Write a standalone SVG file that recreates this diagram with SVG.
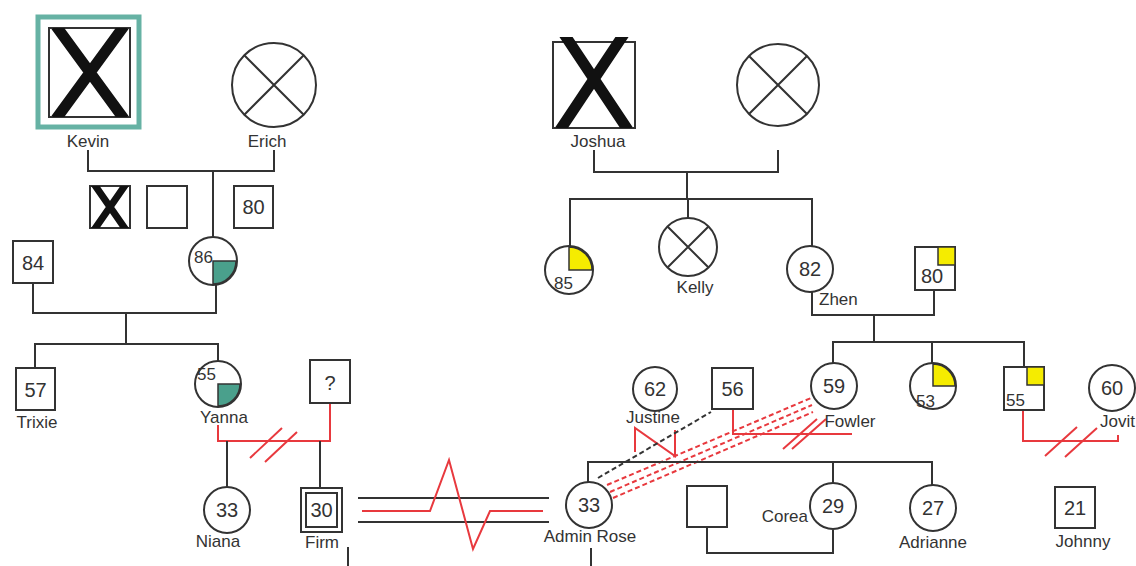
<svg xmlns="http://www.w3.org/2000/svg" width="1136" height="566" viewBox="0 0 1136 566">
<style>
.s{fill:#fff;stroke:#333;stroke-width:2}
.n{fill:none;stroke:#333;stroke-width:2}
.x{stroke:#111;stroke-linecap:butt}
.t{font-family:"Liberation Sans",Arial,sans-serif;font-size:20px;fill:#333;text-anchor:middle}
.st{font-family:"Liberation Sans",Arial,sans-serif;font-size:17px;fill:#333}
.l{font-family:"Liberation Sans",Arial,sans-serif;font-size:17px;fill:#333;text-anchor:middle}
.c path,.c line{fill:none;stroke:#333;stroke-width:2}
.c .r{stroke:#e8393e}
.c .d{stroke-dasharray:5 3}
.teal{fill:#4aa08c;stroke:#333;stroke-width:1.5}
.yel{fill:#f5ec00;stroke:#333;stroke-width:1.5}
</style>
<defs>
<clipPath id="ck"><rect x="49" y="28" width="81" height="89"/></clipPath>
<clipPath id="cj"><rect x="553" y="37" width="82" height="91"/></clipPath>
<clipPath id="cs"><rect x="90" y="186" width="40" height="42"/></clipPath>
</defs>
<rect width="1136" height="566" fill="#fff"/>

<g id="connectors" class="c">
<path d="M88,150 V171 H274 V150"/>
<path d="M213,171 V237"/>
<path d="M33,283 V313 H216 V285"/>
<path d="M126,313 V344"/>
<path d="M35,368 V344 H218 V361"/>
<path class="r" d="M218,425 V441 H330 V403"/>
<path class="r" d="M250,458 L282,428 M265,462 L297,432"/>
<path d="M227,441 V487"/>
<path d="M320,441 V488"/>
<path d="M348,547 V566"/>
<path d="M358,498 H549 M358,522 H549"/>
<path class="r" d="M362,511 H430 L449,460 L473,549 L490,511 H543"/>
<path d="M594,150 V172 H778 V150"/>
<path d="M687,172 V199"/>
<path d="M570,246 V199 H812 V246"/>
<path d="M688,199 V218"/>
<path d="M812,292 V315 H934 V290"/>
<path d="M874,315 V342"/>
<path d="M833,363 V342 H1024 V367"/>
<path d="M932,342 V363"/>
<path class="r" d="M733,409 V434 H852"/>
<path class="r" d="M783,449 L817,419 M792,449 L826,419"/>
<path class="r" d="M635,452 V428 L675,456 V430"/>
<path class="d" d="M598,478 L711,412"/>
<path class="r d" d="M607,485 L811,398 M610,492 L812,405 M613,498 L813,412"/>
<path d="M588,482 V462 H932 V485"/>
<path d="M833,462 V483"/>
<path d="M707,527 V553 H833 V530"/>
<path d="M591,548 V566"/>
<path class="r" d="M1023,409 V441 H1118 V435"/>
<path class="r" d="M1045,456 L1077,427 M1065,457 L1097,428"/>
</g>

<g id="kevin">
<rect x="38" y="17" width="101" height="110" fill="none" stroke="#66b2a4" stroke-width="5"/>
<rect x="49" y="28" width="81" height="89" class="s"/>
<g clip-path="url(#ck)"><path class="x" stroke-width="11" d="M56,26 L124,119 M124,26 L56,119"/></g>
<text x="88" y="147" class="l">Kevin</text>
</g>
<g id="erich">
<circle cx="274" cy="85" r="42" class="s"/>
<path class="n" d="M244.3,55.3 L303.7,114.7 M303.7,55.3 L244.3,114.7"/>
<text x="267" y="147" class="l">Erich</text>
</g>
<g id="sib-x">
<rect x="90" y="186" width="40" height="42" class="s"/>
<g clip-path="url(#cs)"><path class="x" stroke-width="7" d="M94,184 L126,230 M126,184 L94,230"/></g>
</g>
<g id="sib-empty"><rect x="147" y="186" width="40" height="42" class="s"/></g>
<g id="sib-80"><rect x="234" y="186" width="39" height="42" class="s"/><text x="253.5" y="214" class="t">80</text></g>
<g id="p84"><rect x="13" y="241" width="40" height="42" class="s"/><text x="33" y="270" class="t">84</text></g>
<g id="p86">
<circle cx="213" cy="261" r="24" class="s"/>
<path class="teal" d="M213,261 H236 A23,23 0 0 1 213,284 Z"/>
<text x="194" y="263" class="st">86</text>
</g>
<g id="trixie"><rect x="16" y="368" width="39" height="42" class="s"/><text x="35.5" y="397" class="t">57</text><text x="37" y="428" class="l">Trixie</text></g>
<g id="yanna">
<circle cx="218" cy="384" r="23" class="s"/>
<path class="teal" d="M218,384 H240 A22,22 0 0 1 218,406 Z"/>
<text x="197" y="380" class="st">55</text>
<text x="224" y="423" class="l">Yanna</text>
</g>
<g id="unknown"><rect x="310" y="360" width="40" height="43" class="s"/><text x="330" y="390" class="t">?</text></g>
<g id="niana"><circle cx="227" cy="510" r="23" class="s"/><text x="227" y="517" class="t">33</text><text x="218" y="547" class="l">Niana</text></g>
<g id="firm">
<rect x="301" y="488" width="41" height="44" class="s"/>
<rect x="306" y="493" width="31" height="34" class="s"/>
<text x="321.5" y="517" class="t">30</text>
<text x="322" y="548" class="l">Firm</text>
</g>
<g id="joshua">
<rect x="553" y="42" width="82" height="86" class="s"/>
<g clip-path="url(#cj)"><path class="x" stroke-width="11" d="M564,34 L628,130 M624,34 L560,130"/></g>
<text x="598" y="147" class="l">Joshua</text>
</g>
<g id="joshua-wife">
<circle cx="778" cy="85" r="41" class="s"/>
<path class="n" d="M749,56 L807,114 M807,56 L749,114"/>
</g>
<g id="p85">
<circle cx="569" cy="270" r="24" class="s"/>
<path class="yel" d="M569,270 V247 A23,23 0 0 1 592,270 Z"/>
<text x="554" y="289" class="st">85</text>
</g>
<g id="kelly">
<circle cx="688" cy="247" r="29" class="s"/>
<path class="n" d="M667.5,226.5 L708.5,267.5 M708.5,226.5 L667.5,267.5"/>
<text x="695" y="293" class="l">Kelly</text>
</g>
<g id="zhen"><circle cx="810" cy="269" r="23" class="s"/><text x="810" y="276" class="t">82</text><text x="819" y="305" class="st">Zhen</text></g>
<g id="p80b">
<rect x="915" y="247" width="40" height="43" class="s"/>
<rect x="938" y="247" width="17" height="18" class="yel"/>
<text x="932" y="283" class="t">80</text>
</g>
<g id="justine"><circle cx="655" cy="389" r="22" class="s"/><text x="655" y="396" class="t">62</text><text x="653" y="423" class="l">Justine</text></g>
<g id="p56"><rect x="712" y="368" width="41" height="41" class="s"/><text x="732.5" y="396" class="t">56</text></g>
<g id="fowler"><circle cx="834" cy="386" r="23" class="s"/><text x="834" y="393" class="t">59</text><text x="850" y="427" class="l">Fowler</text></g>
<g id="p53">
<circle cx="933" cy="386" r="23" class="s"/>
<path class="yel" d="M933,386 V364 A22,22 0 0 1 955,386 Z"/>
<text x="916" y="407" class="st">53</text>
</g>
<g id="p55b">
<rect x="1004" y="367" width="40" height="43" class="s"/>
<rect x="1027" y="367" width="17" height="18" class="yel"/>
<text x="1006" y="406" class="st">55</text>
</g>
<g id="jovit"><circle cx="1112" cy="388" r="23" class="s"/><text x="1112" y="395" class="t">60</text><text x="1100" y="427" class="st">Jovit</text></g>
<g id="admin-rose"><circle cx="589" cy="505" r="23" class="s"/><text x="589" y="512" class="t">33</text><text x="590" y="542" class="l">Admin Rose</text></g>
<g id="corea-partner"><rect x="687" y="486" width="40" height="41" class="s"/></g>
<g id="corea"><circle cx="833" cy="506" r="23" class="s"/><text x="833" y="513" class="t">29</text><text x="808" y="522" class="st" text-anchor="end">Corea</text></g>
<g id="adrianne"><circle cx="933" cy="508" r="23" class="s"/><text x="933" y="515" class="t">27</text><text x="933" y="548" class="l">Adrianne</text></g>
<g id="johnny"><rect x="1055" y="487" width="40" height="41" class="s"/><text x="1075" y="515" class="t">21</text><text x="1083" y="547" class="l">Johnny</text></g>
</svg>
